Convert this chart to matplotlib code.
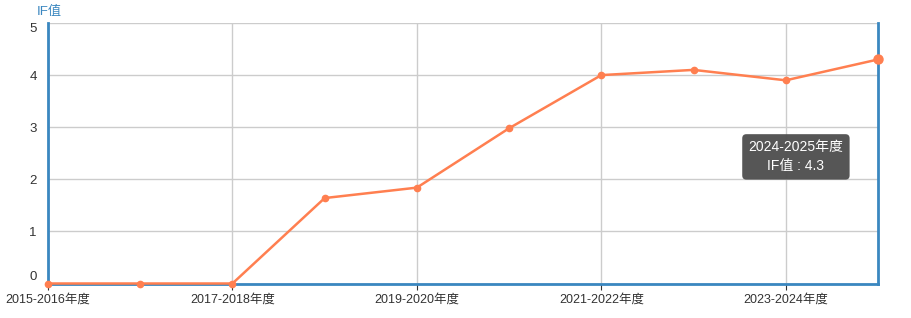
import matplotlib.pyplot as plt

plt.rcParams['font.family'] = ['Liberation Sans', 'Noto Sans CJK SC', 'DejaVu Sans']

years = ['2015-2016年度', '2016-2017年度', '2017-2018年度', '2018-2019年度', '2019-2020年度',
         '2020-2021年度', '2021-2022年度', '2022-2023年度', '2023-2024年度', '2024-2025年度']
if_values = [0, 0, 0, 1.64, 1.84, 2.98, 4.0, 4.1, 3.9, 4.3]
y_ticks = [0, 1, 2, 3, 4, 5]

line_color = '#ff7f50'
axis_color = '#3a87c0'
grid_color = '#cccccc'

fig = plt.figure(figsize=(9.12, 3.18), dpi=100)
ax = fig.add_axes([48 / 912, (318 - 283.5) / 318, 830 / 912, 260.5 / 318])

x = list(range(len(years)))
ax.plot(x, if_values, color=line_color, lw=1.8, marker='o', ms=4.5, zorder=3, clip_on=False)
# hovered point
ax.plot(x[-1], if_values[-1], 'o', color=line_color, ms=6.5, zorder=4, clip_on=False)

ax.set_xlim(0, len(years) - 1)
ax.set_ylim(0, 5)
ax.set_yticks(y_ticks)
ax.set_xticks(x[::2])
ax.set_xticklabels(years[::2], fontsize=9, color='#333333')
ax.set_yticklabels([str(v) for v in y_ticks], fontsize=9.5, color='#333333')
ylabels = ax.get_yticklabels()
ylabels[0].set_va('bottom')
ylabels[-1].set_va('top')

ax.tick_params(axis='y', length=0, pad=8)
ax.tick_params(axis='x', length=4, color='#333333', pad=3)

ax.grid(True, color=grid_color, lw=1)
ax.set_axisbelow(True)
for side in ['left', 'right', 'bottom']:
    ax.spines[side].set_color(axis_color)
    ax.spines[side].set_linewidth(2)
ax.spines['top'].set_visible(False)

fig.text(37 / 912, 1 - 12 / 318, 'IF值', color=axis_color, fontsize=9.5, va='center', ha='left')

# tooltip
ax.text(8.11, 2.43, years[-1] + '\nIF值 : ' + str(if_values[-1]), ha='center', va='center',
        color='white', fontsize=10, linespacing=1.45, zorder=5,
        bbox=dict(boxstyle='round,pad=0.45,rounding_size=0.3', fc='#505050', ec='none', alpha=0.97))

fig.savefig('out.png', dpi=100)
